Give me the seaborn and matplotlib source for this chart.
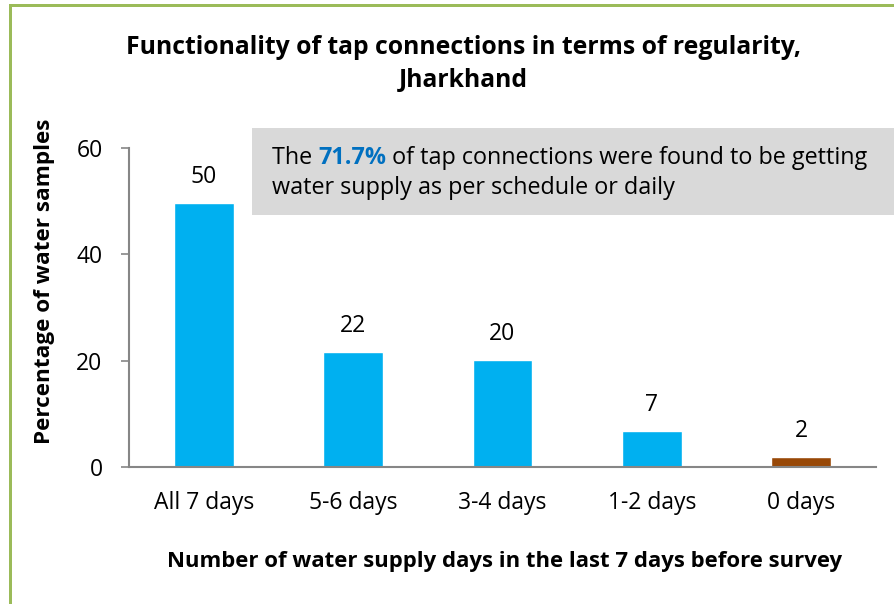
import matplotlib
matplotlib.use("Agg")
import matplotlib.pyplot as plt
import seaborn as sns
import pandas as pd
from matplotlib.patches import Rectangle

categories = ["All 7 days", "5-6 days", "3-4 days", "1-2 days", "0 days"]
values = [49.6, 21.6, 20.1, 6.8, 1.9]
bar_labels = ["50", "22", "20", "7", "2"]
groups = ["supply", "supply", "supply", "supply", "none"]
yticks = [0, 20, 40, 60]

title = "Functionality of tap connections in terms of regularity,\nJharkhand"
xlabel = "Number of water supply days in the last 7 days before survey"
ylabel = "Percentage of water samples"

sns.set_theme(style="white")
FONT = "Open Sans"
plt.rcParams["font.family"] = [FONT, "DejaVu Sans"]
plt.rcParams["text.color"] = "#000000"
plt.rcParams["axes.labelcolor"] = "#000000"

W, H = 894, 604
fig = plt.figure(figsize=(W / 100, H / 100), dpi=100)
ax = fig.add_axes([129 / W, 1 - 467 / H, (876 - 129) / W, (467 - 148) / H])

df = pd.DataFrame({"cat": categories, "val": values, "grp": groups})
palette = {"supply": "#00B0F0", "none": "#984807"}
sns.barplot(data=df, x="cat", y="val", hue="grp", palette=palette, dodge=False,
            width=0.4, legend=False, ax=ax, saturation=1)

ax.set_ylim(0, 60)
ax.set_xlim(-0.5, 4.5)
ax.set_yticks(yticks)
ax.set_yticklabels([str(t) for t in yticks], fontsize=16.5, color="#000000")
ax.tick_params(axis="y", length=6, width=1.2, color="#868686", pad=13, direction="out", left=True)
ax.tick_params(axis="x", length=0, pad=17, labelsize=16.5, colors="#000000")
for s in ["top", "right"]:
    ax.spines[s].set_visible(False)
for s in ["left", "bottom"]:
    ax.spines[s].set_color("#868686")
    ax.spines[s].set_linewidth(1.5)
ax.set_xlabel("")
ax.set_ylabel("")

for i, (v, lab) in enumerate(zip(values, bar_labels)):
    ax.annotate(lab, (i, v), xytext=(0, 10), textcoords="offset points",
                ha="center", va="bottom", fontsize=16.5, color="#000000")

title_lines = title.split("\n")
for line, yy in zip(title_lines, [48, 80]):
    fig.text(463 / W, 1 - yy / H, line, ha="center", va="center", fontsize=17.8,
             fontweight="bold", color="#000000")
fig.text(505 / W, 1 - 561 / H, xlabel, ha="center", va="center", fontsize=15.9,
         fontweight="bold", color="#000000")
fig.text(45 / W, 1 - 281 / H, ylabel, ha="center", va="center", rotation=90,
         fontsize=16.2, fontweight="bold", color="#000000")

# annotation box
fig.patches.append(Rectangle((252 / W, 1 - 215 / H), (W - 252) / W, (215 - 128) / H,
                             transform=fig.transFigure, facecolor="#D9D9D9",
                             edgecolor="none", zorder=0))
fig.canvas.draw()
renderer = fig.canvas.get_renderer()
x0 = 272
y1 = 1 - 158 / H
BOXFS = 16.8
parts = [("The ", "normal", "#000000"), ("71.7%", "bold", "#0070C0"),
         (" of tap connections were found to be getting", "normal", "#000000")]
x = x0
for txt, wt, col in parts:
    t = fig.text(x / W, y1, txt, ha="left", va="center", fontsize=BOXFS,
                 fontweight=wt, color=col)
    bb = t.get_window_extent(renderer)
    x = x + bb.width
fig.text(x0 / W, 1 - 188 / H, "water supply as per schedule or daily", ha="left",
         va="center", fontsize=BOXFS, color="#000000")

# green border (top and left)
fig.patches.append(Rectangle((9 / W, 0), 3 / W, 1 - 4 / H, transform=fig.transFigure,
                             facecolor="#9BBB59", edgecolor="none"))
fig.patches.append(Rectangle((9 / W, 1 - 7 / H), 1, 3 / H, transform=fig.transFigure,
                             facecolor="#9BBB59", edgecolor="none"))

fig.savefig("out.png", dpi=100)
